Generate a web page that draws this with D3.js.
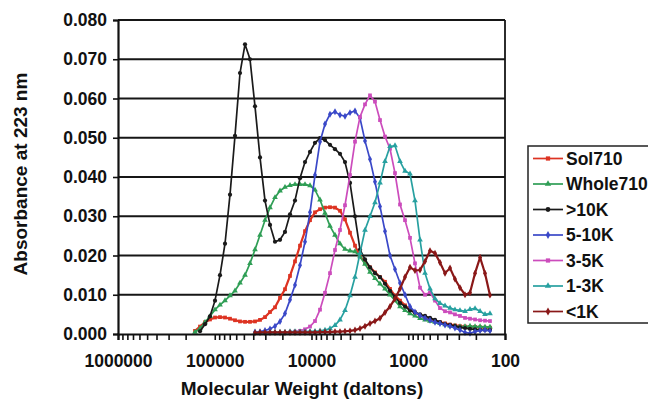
<!DOCTYPE html>
<html>
<head>
<meta charset="utf-8">
<script src="https://cdn.jsdelivr.net/npm/d3@7"></script>
<style>
    body { margin: 0; background: #fff; }
    text { font-family: "Liberation Sans", Arial, sans-serif; font-weight: bold; fill: #111; }
</style>
</head>
<body>
<div id="chart"></div>
<script>

// 1. Data

const molecularWeight = [
    160000, 142100, 126100, 112000, 99400, 88260, 78350, 69560, 61760, 54830,
    48670, 43220, 38370, 34060, 30240, 26850, 23840, 21160, 18790, 16680,
    14810, 13150, 11670, 10360, 9200, 8167, 7252, 6439, 5716, 5075,
    4506, 4000, 3551, 3153, 2799, 2485, 2207, 1959, 1739, 1544,
    1371, 1217, 1080, 959, 852, 756, 671, 596, 529, 470,
    417, 370, 329, 292, 259, 230, 204, 181, 161, 143
];

const sol710 = [
    0.0008, 0.0019, 0.0030, 0.0037, 0.0042, 0.0043, 0.0042, 0.0039, 0.0035, 0.0032,
    0.0031, 0.0031, 0.0032, 0.0036, 0.0043, 0.0056, 0.0068, 0.0092, 0.0114, 0.0148,
    0.0185, 0.0225, 0.0262, 0.0290, 0.0310, 0.0318, 0.0322, 0.0323, 0.0322, 0.0314,
    0.0292, 0.0258, 0.0225, 0.0198, 0.0183, 0.0170, 0.0157, 0.0145, 0.0133, 0.0115,
    0.0098, 0.0085, 0.0073, 0.0062, 0.0055, 0.0048, 0.0042, 0.0037, 0.0033, 0.0030,
    0.0027, 0.0024, 0.0022, 0.0020, 0.0019, 0.0018, 0.0018, 0.0017, 0.0016, 0.0016
];

const whole710 = [
    0.0005, 0.0014, 0.0030, 0.0045, 0.0062, 0.0074, 0.0085, 0.0098, 0.0110, 0.0130,
    0.0150, 0.0180, 0.0215, 0.0252, 0.0290, 0.0322, 0.0348, 0.0365, 0.0374, 0.0379,
    0.0381, 0.0381, 0.0381, 0.0378, 0.0367, 0.0342, 0.0308, 0.0275, 0.0252, 0.0230,
    0.0216, 0.0212, 0.0210, 0.0197, 0.0178, 0.0158, 0.0142, 0.0128, 0.0115, 0.0100,
    0.0085, 0.0070, 0.0060, 0.0052, 0.0046, 0.0040, 0.0036, 0.0033, 0.0030, 0.0027,
    0.0024, 0.0021, 0.0020, 0.0019, 0.0019, 0.0020, 0.0019, 0.0019, 0.0018, 0.0018
];

const over10K = [
    null, 0.0007, 0.0025, 0.0045, 0.0085, 0.0150, 0.0230, 0.0355, 0.0505, 0.0665,
    0.0738, 0.0700, 0.0580, 0.0450, 0.0340, 0.0278, 0.0235, 0.0240, 0.0260, 0.0305,
    0.0340, 0.0397, 0.0438, 0.0464, 0.0487, 0.0499, 0.0494, 0.0482, 0.0471, 0.0459,
    0.0438, 0.0385, 0.0300, 0.0215, 0.0190, 0.0170, 0.0155, 0.0145, 0.0128, 0.0110,
    0.0095, 0.0079, 0.0070, 0.0060, 0.0055, 0.0050, 0.0046, 0.0041, 0.0036, 0.0030,
    0.0025, 0.0023, 0.0020, 0.0017, 0.0015, 0.0013, 0.0012, 0.0010, 0.0010, 0.0010
];

const k5to10 = [
    null, null, null, null, null, null, null, null, null, null,
    null, null, 0.0005, 0.0006, 0.0009, 0.0013, 0.0020, 0.0032, 0.0052, 0.0087,
    0.0125, 0.0175, 0.0235, 0.0310, 0.0405, 0.0490, 0.0535, 0.0560, 0.0566, 0.0558,
    0.0555, 0.0564, 0.0568, 0.0550, 0.0492, 0.0445, 0.0388, 0.0325, 0.0262, 0.0200,
    0.0165, 0.0130, 0.0100, 0.0070, 0.0056, 0.0047, 0.0041, 0.0035, 0.0030, 0.0027,
    0.0023, 0.0020, 0.0015, 0.0010, 0.0004, 0.0002, 0.0006, 0.0009, 0.0010, 0.0008
];

const k3to5 = [
    null, null, null, null, null, null, null, null, null, null,
    null, null, null, null, null, null, null, null, null, 0.0004,
    0.0006, 0.0008, 0.0012, 0.0019, 0.0033, 0.0062, 0.0105, 0.0155, 0.0214, 0.0265,
    0.0328, 0.0405, 0.0490, 0.0553, 0.0585, 0.0608, 0.0592, 0.0545, 0.0503, 0.0472,
    0.0410, 0.0330, 0.0290, 0.0245, 0.0180, 0.0118, 0.0100, 0.0106, 0.0085, 0.0066,
    0.0058, 0.0055, 0.0050, 0.0046, 0.0041, 0.0039, 0.0037, 0.0035, 0.0034, 0.0033
];

const k1to3 = [
    null, null, null, null, null, null, null, null, null, null,
    null, null, 0.0003, 0.0004, 0.0004, 0.0005, 0.0005, 0.0005, 0.0005, 0.0006,
    0.0006, 0.0006, 0.0006, 0.0007, 0.0007, 0.0008, 0.0010, 0.0014, 0.0022, 0.0036,
    0.0060, 0.0098, 0.0145, 0.0206, 0.0265, 0.0300, 0.0335, 0.0385, 0.0440, 0.0478,
    0.0480, 0.0440, 0.0415, 0.0408, 0.0340, 0.0240, 0.0155, 0.0115, 0.0090, 0.0078,
    0.0072, 0.0066, 0.0062, 0.0060, 0.0058, 0.0063, 0.0065, 0.0058, 0.0050, 0.0052
];

const under1K = [
    null, null, null, null, null, null, null, null, null, null,
    null, null, 0.0003, 0.0004, 0.0004, 0.0004, 0.0004, 0.0004, 0.0004, 0.0004,
    0.0004, 0.0004, 0.0004, 0.0004, 0.0004, 0.0005, 0.0005, 0.0005, 0.0006, 0.0006,
    0.0007, 0.0008, 0.0010, 0.0014, 0.0020, 0.0027, 0.0033, 0.0040, 0.0055, 0.0070,
    0.0090, 0.0115, 0.0145, 0.0170, 0.0162, 0.0163, 0.0185, 0.0212, 0.0206, 0.0182,
    0.0155, 0.0168, 0.0140, 0.0118, 0.0100, 0.0105, 0.0155, 0.0195, 0.0155, 0.0099
];

const seriesNames = ["Sol710", "Whole710", ">10K", "5-10K", "3-5K", "1-3K", "<1K"];
const seriesValues = [sol710, whole710, over10K, k5to10, k3to5, k1to3, under1K];
const seriesColors = ["#dd3322", "#2f9e55", "#1a1a1a", "#3a48c8", "#cc4cbc", "#27a0a0", "#8a1818"];

const yTicks = [0, 0.01, 0.02, 0.03, 0.04, 0.05, 0.06, 0.07, 0.08];
const xTickLabels = [1000000, 100000, 10000, 1000, 100];


// 2. Dimensions

const dimensions = {
    width: 648,
    height: 400,
    margin: { top: 20, right: 143, bottom: 66, left: 118 },
};
dimensions.boundedWidth = dimensions.width - dimensions.margin.left - dimensions.margin.right;
dimensions.boundedHeight = dimensions.height - dimensions.margin.top - dimensions.margin.bottom;


// 3. Canvas

const chart = d3.select("#chart")
    .append("svg")
    .attr("width", dimensions.width)
    .attr("height", dimensions.height);

const bounds = chart.append("g")
    .attr("transform", `translate(${dimensions.margin.left}, ${dimensions.margin.top})`);


// 4. Scales

const xScale = d3.scaleLog()
    .domain([1000000, 100])
    .range([0, dimensions.boundedWidth]);

const yScale = d3.scaleLinear()
    .domain([0, 0.08])
    .range([dimensions.boundedHeight, 0]);

const symbols = [d3.symbolSquare, d3.symbolTriangle, d3.symbolCircle, d3.symbolDiamond,
                 d3.symbolSquare, d3.symbolTriangle, d3.symbolDiamond];


// 5. Gridlines and frame

bounds.selectAll("line.grid")
    .data(yTicks.filter(d => d > 0))
    .join("line")
    .attr("class", "grid")
    .attr("x1", 0)
    .attr("x2", dimensions.boundedWidth)
    .attr("y1", d => yScale(d))
    .attr("y2", d => yScale(d))
    .attr("stroke", "#161616")
    .attr("stroke-width", 1.8);

bounds.append("line")
    .attr("x1", dimensions.boundedWidth)
    .attr("x2", dimensions.boundedWidth)
    .attr("y1", 0)
    .attr("y2", dimensions.boundedHeight)
    .attr("stroke", "#161616")
    .attr("stroke-width", 1.8);


// 6. Series

const lineGenerator = d3.line()
    .defined(d => d.v != null)
    .x(d => xScale(d.mw))
    .y(d => yScale(d.v));

seriesValues.forEach((values, i) => {
    const points = values.map((v, j) => ({ mw: molecularWeight[j], v }));

    bounds.append("path")
        .datum(points)
        .attr("d", lineGenerator)
        .attr("fill", "none")
        .attr("stroke", seriesColors[i])
        .attr("stroke-width", i === 6 || i === 0 ? 2.2 : 1.7);

    bounds.selectAll(`path.marker-${i}`)
        .data(points.filter(d => d.v != null))
        .join("path")
        .attr("class", `marker-${i}`)
        .attr("transform", d => `translate(${xScale(d.mw)}, ${yScale(d.v)})`)
        .attr("d", d3.symbol().type(symbols[i]).size(14))
        .attr("fill", seriesColors[i]);
});


// 7. Axes

const yAxis = bounds.append("g")
    .call(d3.axisLeft(yScale)
        .tickValues(yTicks)
        .tickFormat(d3.format(".3f"))
        .tickSize(5)
        .tickPadding(6));

const xAxis = bounds.append("g")
    .attr("transform", `translate(0, ${dimensions.boundedHeight})`)
    .call(d3.axisBottom(xScale)
        .tickValues(xScale.ticks())
        .tickFormat(d => xTickLabels.includes(Math.round(d)) ? Math.round(d) : "")
        .tickSize(6)
        .tickPadding(15));

[yAxis, xAxis].forEach(axis => {
    axis.select(".domain").attr("stroke", "#111").attr("stroke-width", 2.2);
    axis.selectAll(".tick line").attr("stroke", "#111").attr("stroke-width", 1.6);
    axis.selectAll(".tick text")
        .style("font-family", '"Liberation Sans", Arial, sans-serif')
        .style("font-weight", "bold")
        .style("font-size", "17.5px")
        .attr("fill", "#111");
});


// 8. Axis titles

chart.append("text")
    .attr("x", 302)
    .attr("y", 395)
    .attr("text-anchor", "middle")
    .style("font-size", "19px")
    .text("Molecular Weight (daltons)");

chart.append("text")
    .attr("transform", "translate(27, 174) rotate(-90)")
    .attr("text-anchor", "middle")
    .style("font-size", "19px")
    .text("Absorbance at 223 nm");


// 9. Legend

const legend = chart.append("g")
    .attr("transform", "translate(528, 146)");

legend.append("rect")
    .attr("width", 135)
    .attr("height", 177)
    .attr("fill", "#fff")
    .attr("stroke", "#222")
    .attr("stroke-width", 1.5);

const legendItems = legend.selectAll("g.item")
    .data(seriesNames)
    .join("g")
    .attr("class", "item")
    .attr("transform", (d, i) => `translate(0, ${12.5 + i * 25.5})`);

legendItems.append("line")
    .attr("x1", 5)
    .attr("x2", 35)
    .attr("stroke", (d, i) => seriesColors[i])
    .attr("stroke-width", 1.7);

legendItems.append("path")
    .attr("transform", "translate(20, 0)")
    .attr("d", (d, i) => d3.symbol().type(symbols[i]).size(18)())
    .attr("fill", (d, i) => seriesColors[i]);

legendItems.append("text")
    .attr("x", 38)
    .attr("dy", "0.36em")
    .style("font-size", "17.5px")
    .text(d => d);

</script>
</body>
</html>
